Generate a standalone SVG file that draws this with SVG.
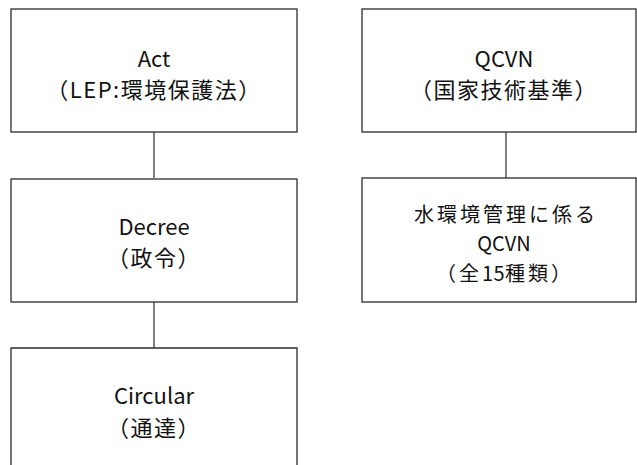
<svg xmlns="http://www.w3.org/2000/svg" width="637" height="465" viewBox="0 0 637 465">
<style>
.box{fill:#fff;stroke:#2b2b2b;stroke-width:1.3}
.conn{stroke:#2b2b2b;stroke-width:1.2;fill:none}
text{font-family:"Noto Sans CJK JP","Noto Sans CJK SC",sans-serif;font-size:22px;fill:#111;text-anchor:middle}
.cjk{letter-spacing:1.5px}
.sm{font-size:20px}
.sm.cjk{letter-spacing:3px}
.num{letter-spacing:0.5px}
</style>
<rect width="637" height="465" fill="#fff"/>
<g id="connectors">
<line class="conn" x1="154" y1="132" x2="154" y2="178"/>
<line class="conn" x1="154" y1="302" x2="154" y2="348"/>
<line class="conn" x1="506" y1="132" x2="506" y2="178"/>
</g>
<g id="act">
<rect class="box" x="11" y="9" width="286" height="123"/>
<text x="154" y="67">Act</text>
<text class="cjk" x="154" y="98">（LEP:環境保護法）</text>
</g>
<g id="decree">
<rect class="box" x="11" y="179" width="286" height="123"/>
<text x="154" y="235">Decree</text>
<text class="cjk" x="154" y="266">（政令）</text>
</g>
<g id="circular">
<path class="box" d="M11,470 V348 H297 V470"/>
<text x="154" y="404">Circular</text>
<text class="cjk" x="154" y="436">（通達）</text>
</g>
<g id="qcvn">
<rect class="box" x="362" y="9" width="274" height="123"/>
<text x="504" y="67">QCVN</text>
<text class="cjk" x="504" y="98">（国家技術基準）</text>
</g>
<g id="water-qcvn">
<rect class="box" x="362" y="178" width="274" height="124"/>
<text class="sm cjk" x="506" y="221.5">水環境管理に係る</text>
<text class="sm" x="504" y="251">QCVN</text>
<text class="sm cjk" x="505" y="280.5">（全<tspan class="num">15</tspan>種類）</text>
</g>
</svg>
